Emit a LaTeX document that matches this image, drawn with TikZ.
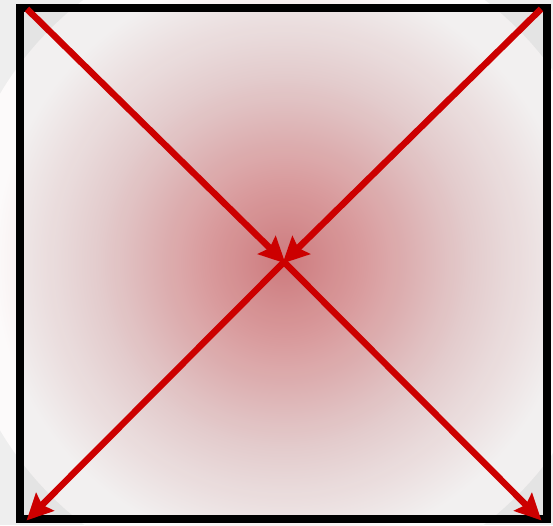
\documentclass[tikz,border=0pt]{standalone}
\usetikzlibrary{arrows.meta}
\definecolor{arrowred}{RGB}{204,0,0}
\definecolor{cen}{RGB}{214,128,131}
\definecolor{midc}{RGB}{226,162,164}
\definecolor{outc}{RGB}{237,212,213}
\definecolor{edgec}{RGB}{252,250,250}
\definecolor{cornergray}{RGB}{238,238,238}
\pgfdeclareradialshading{glow}{\pgfpoint{0bp}{0bp}}{color(0bp)=(cen); color(6bp)=(midc); color(14bp)=(outc); color(22bp)=(edgec); color(25bp)=(edgec); color(50bp)=(edgec)}
\tikzset{
  frame/.style={draw=black, line width=8pt},
  ray/.style={draw=arrowred, line width=6.5pt, -{Stealth[length=26pt, width=25pt, inset=4pt]}, shorten >=-2pt},
}
\begin{document}
\begin{tikzpicture}[x=1pt, y=-1pt]
\useasboundingbox (0,0) rectangle (553,525);
\fill[cornergray] (0,0) rectangle (553,525);
\coordinate (c) at (284,262);
\shade[shading=glow] (c) circle[radius=330];
\fill[black, opacity=0.04] (20,8) rectangle (547,519);
\coordinate (tl) at (27,9);
\coordinate (tr) at (541,9);
\coordinate (bl) at (28,519);
\coordinate (br) at (540,519);
\draw[frame] (20,8) rectangle (547,519);
\draw[ray] (tl) -- (c);
\draw[ray] (tr) -- (c);
\draw[ray] (c) -- (bl);
\draw[ray] (c) -- (br);
\end{tikzpicture}
\end{document}
